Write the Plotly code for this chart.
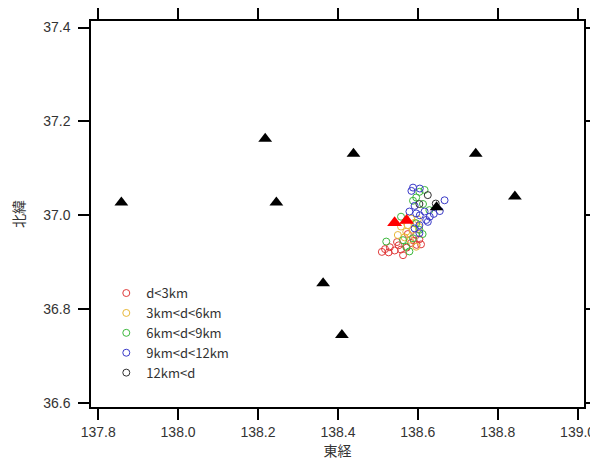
import plotly.graph_objects as go

# Stations (black triangles)
sta_lon = [137.858, 138.218, 138.246, 138.439, 138.745, 138.843, 138.363, 138.410, 138.647]
sta_lat = [37.027, 37.163, 37.027, 37.131, 37.131, 37.040, 36.855, 36.745, 37.017]
# Main events (red triangles)
main_lon = [138.542, 138.572]
main_lat = [36.984, 36.989]

# Aftershocks by depth class
d1_lon = [138.510, 138.518, 138.527, 138.530, 138.542, 138.548, 138.552, 138.558, 138.563,
          138.583, 138.590, 138.597, 138.604, 138.608, 138.596, 138.575, 138.572]
d1_lat = [36.922, 36.928, 36.921, 36.932, 36.925, 36.943, 36.936, 36.927, 36.915,
          36.941, 36.946, 36.937, 36.949, 36.938, 36.958, 36.960, 36.931]
d2_lon = [138.583, 138.592, 138.575, 138.588, 138.550, 138.567, 138.596, 138.558, 138.600,
          138.571, 138.580, 138.603]
d2_lat = [36.993, 36.984, 36.979, 36.969, 36.958, 36.953, 36.933, 36.976, 36.991,
          36.965, 36.948, 36.975]
d3_lon = [138.604, 138.617, 138.588, 138.596, 138.613, 138.558, 138.604, 138.563, 138.571,
          138.521, 138.579, 138.588, 138.629, 138.596, 138.612]
d3_lat = [37.050, 37.054, 37.031, 37.038, 37.024, 36.997, 36.969, 36.947, 36.933,
          36.944, 36.923, 36.951, 37.011, 36.983, 36.960]
d4_lon = [138.588, 138.605, 138.584, 138.667, 138.655, 138.579, 138.596, 138.617, 138.605,
          138.630, 138.625, 138.621, 138.604, 138.592, 138.604, 138.640, 138.592]
d4_lat = [37.059, 37.057, 37.052, 37.032, 37.009, 37.008, 37.004, 37.008, 37.000,
          36.997, 36.986, 36.990, 36.979, 36.972, 36.962, 37.003, 37.020]
d5_lon = [138.625, 138.604, 138.645]
d5_lat = [37.043, 37.024, 37.025]

classes = ["d<3km", "3km<d<6km", "6km<d<9km", "9km<d<12km", "12km<d"]
colors = ["#e03a3a", "#e8b838", "#3cb83c", "#3a3ac8", "#303030"]
xticks = [137.8, 138.0, 138.2, 138.4, 138.6, 138.8, 139.0]
yticks = [36.6, 36.8, 37.0, 37.2, 37.4]

fig = go.Figure()
for name, col, xs, ys in zip(classes, colors,
                             [d1_lon, d2_lon, d3_lon, d4_lon, d5_lon],
                             [d1_lat, d2_lat, d3_lat, d4_lat, d5_lat]):
    fig.add_trace(go.Scatter(x=xs, y=ys, mode="markers", name=name,
                             marker=dict(symbol="circle-open", size=7, color=col,
                                         line=dict(width=1, color=col))))
fig.add_trace(go.Scatter(x=sta_lon, y=sta_lat, mode="markers", showlegend=False,
                         marker=dict(symbol="triangle-up", size=12, color="black")))
fig.add_trace(go.Scatter(x=main_lon, y=main_lat, mode="markers", showlegend=False,
                         marker=dict(symbol="triangle-up", size=13, color="red")))

axis_common = dict(showgrid=False, zeroline=False, showline=True, linecolor="black",
                   linewidth=1.5, mirror="ticks", ticks="outside", ticklen=11,
                   tickwidth=1.5, tickcolor="black", automargin=False,
                   tickfont=dict(family="Liberation Sans, Arial", size=14, color="#333333"))
fig.update_xaxes(range=[137.782, 139.016], tickvals=xticks,
                 ticktext=[f"{v:.1f}" for v in xticks],
                 title=dict(text="東経", font=dict(family="Noto Sans CJK JP", size=14, color="#333333"),
                            standoff=2),
                 **axis_common)
fig.update_yaxes(range=[36.5915, 37.414], tickvals=yticks,
                 ticktext=[f"{v:.1f}" for v in yticks],
                 ticklabelstandoff=5,
                 title=dict(text="北緯", font=dict(family="Noto Sans CJK JP", size=14, color="#333333"),
                            standoff=18),
                 **axis_common)
# The page body adds an 8px offset, so the figure is 8px smaller and margins shifted.
fig.update_layout(
    width=590, height=459,
    margin=dict(l=83, r=14, t=13, b=60),
    plot_bgcolor="white", paper_bgcolor="white",
    legend=dict(x=0.031, y=0.334, xanchor="left", yanchor="top",
                bgcolor="rgba(0,0,0,0)", tracegroupgap=0,
                font=dict(family="Noto Sans CJK JP", size=13, color="#333333")),
)
fig.write_html("out.html")
